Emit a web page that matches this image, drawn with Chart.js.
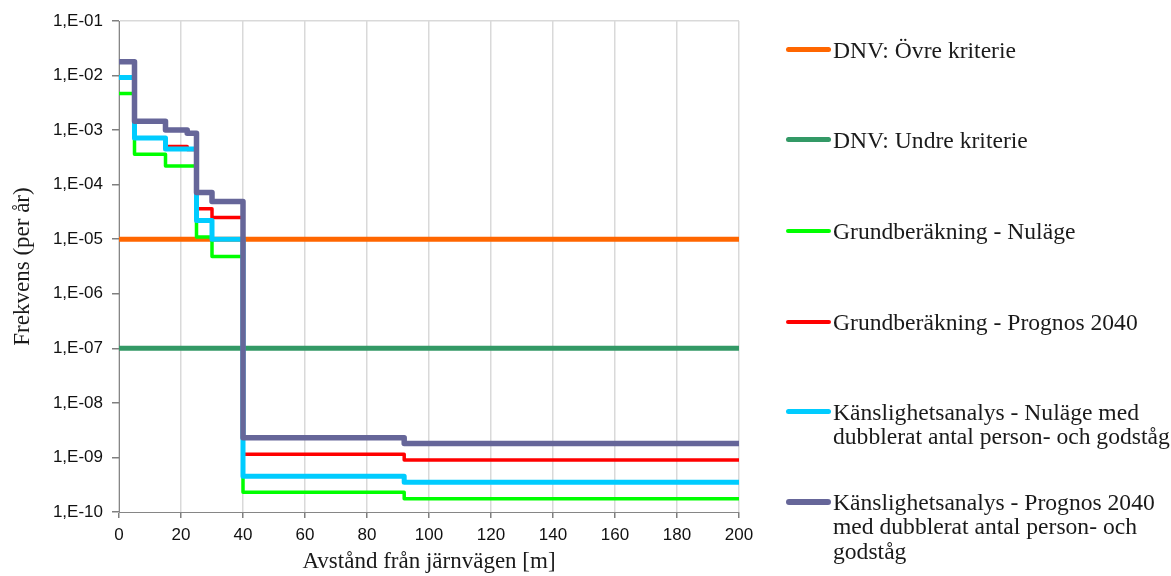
<!DOCTYPE html>
<html>
<head>
<meta charset="utf-8">
<script src="https://cdn.jsdelivr.net/npm/chart.js@4/dist/chart.umd.min.js"></script>
<style>
  html, body { margin: 0; padding: 0; background: #fff; }
  #wrap { position: relative; width: 1171px; height: 576px; overflow: hidden; }
  #c { position: absolute; left: 0; top: 0; }
  #legend { position: absolute; left: 0; top: 0; width: 1171px; height: 576px; pointer-events: none; }
  .item { position: absolute; left: 786px; font-family: "Liberation Serif", "Times New Roman", serif; font-size: 23.6px; line-height: 24.8px; color: #1a1a1a; white-space: pre-line; }
  .swatch { position: absolute; left: 0; width: 45px; border-radius: 3px; }
  .txt { position: absolute; left: 47px; top: 0; width: 380px; }
</style>
</head>
<body>
<div id="wrap">
  <canvas id="c" width="1171" height="576"></canvas>
  <div id="legend"></div>
</div>
<script>
// ---- Data ----
const distances = [0, 5, 15, 22, 25, 30, 40, 92, 200];           // m, step boundaries
const criterionX = [0, 200];
const dnvUpper = [1e-5, 1e-5];
const dnvLower = [1e-7, 1e-7];
const grundNulage   = [4.7e-3, 3.6e-4, 2.2e-4, 2.2e-4, 1.1e-5, 4.8e-6, 2.3e-10, 1.75e-10, 1.75e-10];
const grundPrognos  = [9.0e-3, 7.2e-4, 5.0e-4, 4.4e-4, 3.6e-5, 2.5e-5, 1.15e-9, 9.0e-10, 9.0e-10];
const kanslNulage   = [9.2e-3, 7.2e-4, 4.5e-4, 4.5e-4, 2.2e-5, 1.0e-5, 4.5e-10, 3.5e-10, 3.5e-10];
const kanslPrognos  = [1.8e-2, 1.45e-3, 1.0e-3, 8.8e-4, 7.2e-5, 4.9e-5, 2.3e-9, 1.8e-9, 1.8e-9];
const seriesNames = [
  "DNV: Övre kriterie",
  "DNV: Undre kriterie",
  "Grundberäkning - Nuläge",
  "Grundberäkning - Prognos 2040",
  "Känslighetsanalys - Nuläge med\ndubblerat antal person- och godståg",
  "Känslighetsanalys - Prognos 2040\nmed dubblerat antal person- och\ngodståg"
];
const yTickValues = [1e-10, 1e-9, 1e-8, 1e-7, 1e-6, 1e-5, 1e-4, 1e-3, 1e-2, 1e-1];
const yTickLabels = ["1,E-10", "1,E-09", "1,E-08", "1,E-07", "1,E-06", "1,E-05", "1,E-04", "1,E-03", "1,E-02", "1,E-01"];
const xTitle = "Avstånd från järnvägen [m]";
const yTitle = "Frekvens (per år)";

// ---- Styles ----
const colors = ["#FF6600", "#339966", "#00FF00", "#FF0000", "#00CCFF", "#666699"];
const widths = [5, 5, 3.5, 3.5, 5, 5.5];
const legendY = [50, 140, 231, 322, 412, 502];

function pts(xs, ys) { return xs.map((x, i) => ({ x: x, y: ys[i] })); }
const seriesData = [
  pts(criterionX, dnvUpper),
  pts(criterionX, dnvLower),
  pts(distances, grundNulage),
  pts(distances, grundPrognos),
  pts(distances, kanslNulage),
  pts(distances, kanslPrognos)
];

const datasets = seriesData.map((d, i) => ({
  label: seriesNames[i],
  data: d,
  borderColor: colors[i],
  backgroundColor: colors[i],
  borderWidth: widths[i],
  borderJoinStyle: 'round',
  stepped: 'before',
  pointRadius: 0,
  fill: false,
  order: 5 - i
}));

const tickFont = { family: "Liberation Sans, Arial, sans-serif", size: 17 };
const titleFont = { family: "Liberation Serif, Times New Roman, serif", size: 23 };

new Chart(document.getElementById('c'), {
  type: 'line',
  data: { datasets: datasets },
  options: {
    responsive: false,
    animation: false,
    devicePixelRatio: 1,
    layout: { padding: { top: 21, right: 432, left: 0, bottom: 0 } },
    plugins: { legend: { display: false }, tooltip: { enabled: false } },
    scales: {
      x: {
        type: 'linear',
        min: 0, max: 200,
        ticks: { stepSize: 20, color: '#111', font: tickFont, padding: 7 },
        grid: { color: '#d9d9d9', lineWidth: 1.5, tickColor: '#7f7f7f', tickLength: 6 },
        border: { color: '#868686', width: 1 },
        title: { display: true, text: xTitle, color: '#1a1a1a', font: titleFont, padding: { top: 0, bottom: 0 } },
        afterFit: (s) => { s.height = 64; }
      },
      y: {
        type: 'logarithmic',
        min: 1e-10, max: 1e-1,
        afterBuildTicks: (s) => { s.ticks = yTickValues.map(v => ({ value: v })); },
        ticks: {
          color: '#111', font: tickFont, padding: 9, autoSkip: false,
          callback: (v) => { const k = yTickValues.findIndex(t => Math.abs(Math.log10(t) - Math.log10(v)) < 1e-6); return k >= 0 ? yTickLabels[k] : ''; }
        },
        grid: {
          color: (ctx) => (ctx.tick && Math.abs(ctx.tick.value - 1e-1) < 1e-9 ? '#d9d9d9' : 'rgba(0,0,0,0)'),
          tickColor: '#7f7f7f', tickLength: 7, lineWidth: 1.5
        },
        border: { color: '#868686', width: 1 },
        title: { display: true, text: yTitle, color: '#1a1a1a', font: titleFont, padding: { top: 9, bottom: 0 } },
        afterFit: (s) => { s.width = 119; }
      }
    }
  }
});

// ---- HTML legend ----
const leg = document.getElementById('legend');
seriesNames.forEach((name, i) => {
  const item = document.createElement('div');
  item.className = 'item';
  item.style.top = (legendY[i] - 12.4) + 'px';
  const sw = document.createElement('div');
  sw.className = 'swatch';
  sw.style.background = colors[i];
  sw.style.height = widths[i] + 'px';
  sw.style.top = (12.4 - widths[i] / 2) + 'px';
  const t = document.createElement('div');
  t.className = 't xt';
  t.className = 'txt';
  t.textContent = name;
  item.appendChild(sw);
  item.appendChild(t);
  leg.appendChild(item);
});
</script>
</body>
</html>
